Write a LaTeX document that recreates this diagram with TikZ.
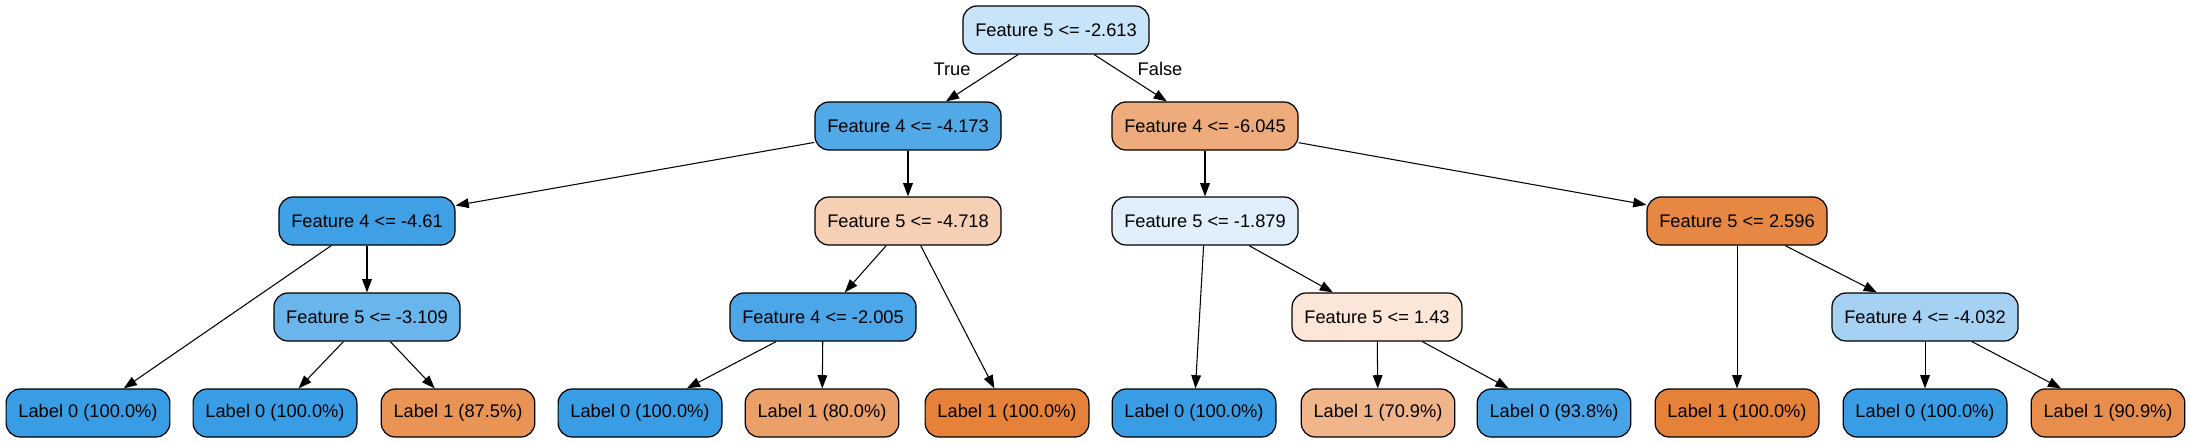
\documentclass[tikz,border=0pt]{standalone}
\usepackage{fontspec}
\setmainfont{Liberation Sans}
\usetikzlibrary{arrows.meta}
\definecolor{leafzero}{HTML}{399DE5}
\definecolor{leafone}{HTML}{E58139}
\definecolor{rootcol}{HTML}{C8E4F8}
\definecolor{splitA}{HTML}{52A9E8}
\definecolor{splitB}{HTML}{EEAB7B}
\definecolor{splitC}{HTML}{3FA0E6}
\definecolor{splitD}{HTML}{F6D0B4}
\definecolor{splitE}{HTML}{E0EFFB}
\definecolor{splitF}{HTML}{E68844}
\definecolor{splitG}{HTML}{6AB5EB}
\definecolor{splitH}{HTML}{4CA6E7}
\definecolor{splitI}{HTML}{FBE6D8}
\definecolor{splitJ}{HTML}{A5D2F3}
\definecolor{leafB}{HTML}{E99355}
\definecolor{leafC}{HTML}{EBA06A}
\definecolor{leafD}{HTML}{F0B58A}
\definecolor{leafE}{HTML}{46A3E7}
\definecolor{leafF}{HTML}{E88E4D}
\begin{document}
\begin{tikzpicture}[x = 0.02cm, y = -0.02cm,
		box/.style = {draw, line width = 0.7pt, rounded corners = 8pt, minimum height = 0.96cm, inner xsep = 7pt, font = \fontsize{10.4}{12}\selectfont},
		edge/.style = {line width = 0.6pt, -{Triangle[length = 7.5pt, width = 5.5pt]}},
		elabel/.style = {font = \fontsize{10.4}{12}\selectfont}]
		\useasboundingbox (0, 0) rectangle (2189, 443);
		% Splits
		\node[box, fill = rootcol] (root) at (1056, 30) {Feature 5 <= -2.613};
		\node[box, fill = splitA] (s1) at (908, 126) {Feature 4 <= -4.173};
		\node[box, fill = splitB] (s2) at (1205, 126) {Feature 4 <= -6.045};
		\node[box, fill = splitC] (s3) at (367, 221) {Feature 4 <= -4.61};
		\node[box, fill = splitD] (s4) at (908, 221) {Feature 5 <= -4.718};
		\node[box, fill = splitE] (s5) at (1205, 221) {Feature 5 <= -1.879};
		\node[box, fill = splitF] (s6) at (1737, 221) {Feature 5 <= 2.596};
		\node[box, fill = splitG] (s7) at (367, 317) {Feature 5 <= -3.109};
		\node[box, fill = splitH] (s8) at (823, 317) {Feature 4 <= -2.005};
		\node[box, fill = splitI] (s9) at (1377, 317) {Feature 5 <= 1.43};
		\node[box, fill = splitJ] (s10) at (1925, 317) {Feature 4 <= -4.032};
		% Leaves
		\node[box, fill = leafzero] (l1) at (88, 413) {Label 0 (100.0\%)};
		\node[box, fill = leafzero] (l2) at (275, 413) {Label 0 (100.0\%)};
		\node[box, fill = leafB] (l3) at (458, 413) {Label 1 (87.5\%)};
		\node[box, fill = leafzero] (l4) at (640, 413) {Label 0 (100.0\%)};
		\node[box, fill = leafC] (l5) at (822, 413) {Label 1 (80.0\%)};
		\node[box, fill = leafone] (l6) at (1007, 413) {Label 1 (100.0\%)};
		\node[box, fill = leafzero] (l7) at (1194, 413) {Label 0 (100.0\%)};
		\node[box, fill = leafD] (l8) at (1378, 413) {Label 1 (70.9\%)};
		\node[box, fill = leafE] (l9) at (1554, 413) {Label 0 (93.8\%)};
		\node[box, fill = leafone] (l10) at (1737, 413) {Label 1 (100.0\%)};
		\node[box, fill = leafzero] (l11) at (1925, 413) {Label 0 (100.0\%)};
		\node[box, fill = leafF] (l12) at (2108, 413) {Label 1 (90.9\%)};
		% Edges
		\draw[edge] (root) -- (s1);
		\draw[edge] (root) -- (s2);
		\draw[edge] (s1) -- (s3);
		\draw[edge] (s1) -- (s4);
		\draw[edge] (s2) -- (s5);
		\draw[edge] (s2) -- (s6);
		\draw[edge] (s3) -- (l1);
		\draw[edge] (s3) -- (s7);
		\draw[edge] (s4) -- (s8);
		\draw[edge] (s4) -- (l6);
		\draw[edge] (s5) -- (l7);
		\draw[edge] (s5) -- (s9);
		\draw[edge] (s6) -- (l10);
		\draw[edge] (s6) -- (s10);
		\draw[edge] (s7) -- (l2);
		\draw[edge] (s7) -- (l3);
		\draw[edge] (s8) -- (l4);
		\draw[edge] (s8) -- (l5);
		\draw[edge] (s9) -- (l8);
		\draw[edge] (s9) -- (l9);
		\draw[edge] (s10) -- (l11);
		\draw[edge] (s10) -- (l12);
		% Labels
		\node[elabel] (true) at (952, 69) {True};
		\node[elabel] (false) at (1160, 69) {False};
	\end{tikzpicture}
\end{document}
